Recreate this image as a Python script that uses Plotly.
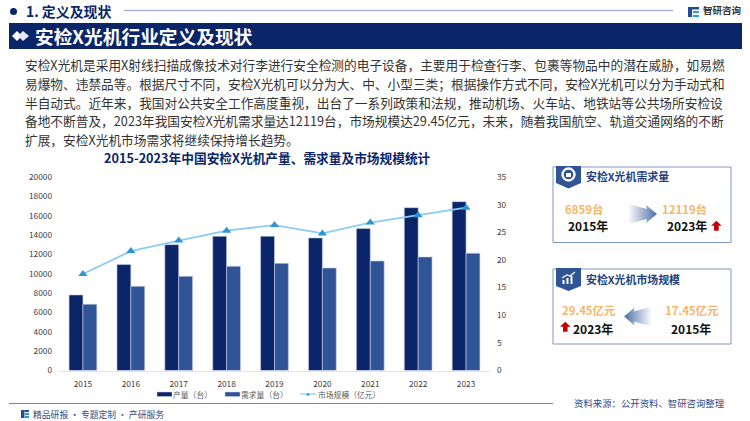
import base64
import plotly.graph_objects as go

W, H = 750, 421
years = ["2015", "2016", "2017", "2018", "2019", "2020", "2021", "2022", "2023"]
production = [7810, 10950, 13010, 13870, 13880, 13700, 14670, 16830, 17450]
demand = [6859, 8700, 9740, 10770, 11080, 10600, 11320, 11740, 12119]
market = [17.45, 21.6, 23.5, 25.3, 26.3, 24.8, 26.75, 28.1, 29.45]
left_ticks = [0, 2000, 4000, 6000, 8000, 10000, 12000, 14000, 16000, 18000, 20000]
right_ticks = [0, 5, 10, 15, 20, 25, 30, 35]
series_names = ["产量（台）", "需求量（台）", "市场规模（亿元）"]

NAVY = "#0A2568"
MID = "#2F5597"
FONT = "Noto Sans CJK SC"
body_lines = [
    "安检X光机是采用X射线扫描成像技术对行李进行安全检测的电子设备，主要用于检查行李、包裹等物品中的潜在威胁，如易燃",
    "易爆物、违禁品等。根据尺寸不同，安检X光机可以分为大、中、小型三类；根据操作方式不同，安检X光机可以分为手动式和",
    "半自动式。近年来，我国对公共安全工作高度重视，出台了一系列政策和法规，推动机场、火车站、地铁站等公共场所安检设",
    "备地不断普及，2023年我国安检X光机需求量达12119台，市场规模达29.45亿元，未来，随着我国航空、轨道交通网络的不断",
    "扩展，安检X光机市场需求将继续保持增长趋势。",
]


def px(x):
    return x / W


def py(y):
    return 1 - y / H


def text(x, y, s, size, color="#222222", anchor="left", bold=False):
    return dict(
        x=px(x), y=py(y), xref="paper", yref="paper", text=f"<b>{s}</b>" if bold else s,
        showarrow=False, xanchor=anchor, yanchor="middle",
        font=dict(size=size, color=color, family=FONT), borderpad=0, borderwidth=0,
    )


def rect(x0, y0, x1, y1, fill=None, line=None, lw=1, layer="below"):
    return dict(
        type="rect", xref="paper", yref="paper", x0=px(x0), x1=px(x1), y0=py(y0), y1=py(y1),
        fillcolor=fill or "rgba(0,0,0,0)", line=dict(color=line or "rgba(0,0,0,0)", width=lw if line else 0),
        layer=layer,
    )


def hline(x0, x1, y, color, lw=1, layer="below"):
    return dict(type="line", xref="paper", yref="paper", x0=px(x0), x1=px(x1), y0=py(y), y1=py(y),
                line=dict(color=color, width=lw), layer=layer)


def poly(points, fill):
    d = "M " + " L ".join(f"{px(a):.5f},{py(b):.5f}" for a, b in points) + " Z"
    return dict(type="path", xref="paper", yref="paper", path=d, fillcolor=fill, line=dict(width=0), layer="above")


def svg_img(svg, x, y, w, h):
    uri = "data:image/svg+xml;base64," + base64.b64encode(svg.encode()).decode()
    return dict(source=uri, xref="paper", yref="paper", x=px(x), y=py(y), sizex=w / W, sizey=h / H,
                xanchor="left", yanchor="top", sizing="stretch", layer="above")


def arrow_svg(reverse):
    a, b = ("#FFFFFF", "#4A6FA8") if not reverse else ("#4A6FA8", "#FFFFFF")
    pts = "0,0 19,5 18,1 29,10 18,19 19,15 0,20" if not reverse else "29,0 10,5 11,1 0,10 11,19 10,15 29,20"
    return (f'<svg xmlns="http://www.w3.org/2000/svg" width="29" height="20" viewBox="0 0 29 20">'
            f'<defs><linearGradient id="g"><stop offset="0" stop-color="{a}"/><stop offset="1" stop-color="{b}"/>'
            f'</linearGradient></defs><polygon points="{pts}" fill="url(#g)"/></svg>')


def up_arrow(cx, top):
    return poly([(cx - 5.3, top + 5), (cx, top), (cx + 5.3, top + 5), (cx + 2.3, top + 5),
                 (cx + 2.3, top + 10), (cx - 2.3, top + 10), (cx - 2.3, top + 5)], "#C00000")


fig = go.Figure()
fig.add_bar(x=years, y=production, name=series_names[0],
            marker=dict(color=NAVY, line=dict(color="#C9D2E6", width=0.6)), yaxis="y")
fig.add_bar(x=years, y=demand, name=series_names[1],
            marker=dict(color=MID, line=dict(color="#C9D2E6", width=0.6)), yaxis="y")
fig.add_scatter(x=years, y=market, name=series_names[2], yaxis="y2", mode="lines+markers",
                line=dict(color="#8CCBF5", width=1.8),
                marker=dict(symbol="triangle-up", size=8, color="#2E95D3"))

shapes = [
    dict(type="circle", xref="paper", yref="paper", x0=px(10), x1=px(17), y0=py(15), y1=py(8),
         fillcolor=NAVY, line=dict(width=0), layer="below"),
    hline(124, 673, 10.5, "#A9B5D3", 1.4),
    rect(9, 23, 742, 49, fill=NAVY),
    poly([(12, 36), (17, 31), (22, 36), (17, 41)], "#FFFFFF"),
    poly([(18, 36), (23, 31), (29, 36), (23, 41)], "#E4E8F2"),
    hline(9, 553, 403.5, "#6F86B5", 1.2),
    # logo marks
    rect(688, 7, 692, 17, fill="#1E4E9C"),
    rect(692, 7, 699, 9.5, fill="#1E4E9C"),
    rect(693, 11, 699, 13, fill="#2B9BD8"),
    rect(693, 15, 699, 17, fill="#2B9BD8"),
    rect(21, 410, 24.5, 418, fill="#1E4E9C"),
    rect(24.5, 410, 29, 412, fill="#1E4E9C"),
    rect(25, 413, 29, 415, fill="#2B9BD8"),
    rect(25, 416, 29, 418, fill="#2B9BD8"),
    # side cards
    rect(553, 167, 731, 242.5, fill="#FFFFFF", line="#7F97C6", lw=1),
    rect(553, 269, 731, 344, fill="#FFFFFF", line="#7F97C6", lw=1),
    poly([(556, 166), (581, 166), (581, 183), (568.5, 188.5), (556, 183)], "#2F5597"),
    poly([(556, 268), (581, 268), (581, 286), (568.5, 291), (556, 286)], "#2F5597"),
    dict(type="circle", xref="paper", yref="paper", x0=px(562.5), x1=px(574.5), y0=py(180.5), y1=py(168.5),
         fillcolor="rgba(0,0,0,0)", line=dict(color="#FFFFFF", width=2.4), layer="above"),
    rect(566, 173, 571, 177, fill="#FFFFFF", layer="above"),
    rect(562.5, 280, 564.5, 284, fill="#FFFFFF", layer="above"),
    rect(566.5, 278, 568.5, 284, fill="#FFFFFF", layer="above"),
    rect(570.5, 276, 572.5, 284, fill="#FFFFFF", layer="above"),
    dict(type="path", xref="paper", yref="paper",
         path=f"M {px(562):.5f},{py(278):.5f} L {px(567):.5f},{py(275):.5f} L {px(570):.5f},{py(276):.5f} L {px(575):.5f},{py(272):.5f}",
         line=dict(color="#FFFFFF", width=1.2), layer="above"),
    up_arrow(716.4, 220.8),
    up_arrow(565.3, 321.7),
    # legend keys
    rect(157, 392, 172, 396.5, fill=NAVY, line="#C9D2E6", lw=0.5),
    rect(225, 392, 240, 396.5, fill=MID, line="#C9D2E6", lw=0.5),
    hline(300, 316, 394, "#8CCBF5", 1.2),
    poly([(306, 395.5), (308, 392.5), (310, 395.5)], "#2E95D3"),
]

annotations = [
    text(26, 11.5, "1. 定义及现状", 13.9, NAVY, bold=True),
    text(35, 36, "安检X光机行业定义及现状", 18.7, "#FFFFFF", bold=True),
    text(703, 10.5, "智研咨询", 9.5, "#333333", bold=True),
    text(267, 157, "2015-2023年中国安检X光机产量、需求量及市场规模统计", 12.7, NAVY, "center", bold=True),
    text(33, 414.5, "精品研报 · 专题定制 · 产研服务", 8.8, "#2F4A86"),
    text(574, 402.5, "资料来源：公开资料、智研咨询整理", 9.4, "#2F4A86"),
    text(585.5, 176.5, "安检X光机需求量", 10.9, "#1F3F80", bold=True),
    text(585.5, 279, "安检X光机市场规模", 10.9, "#1F3F80", bold=True),
    text(583.5, 209, "6859台", 11.4, "#F8B56A", "center", bold=True),
    text(684.7, 209, "12119台", 11.4, "#F8B56A", "center", bold=True),
    text(587.5, 225.3, "2015年", 12, "#111111", "center", bold=True),
    text(687, 225.3, "2023年", 12, "#111111", "center", bold=True),
    text(588.5, 310, "29.45亿元", 11.4, "#F8B56A", "center", bold=True),
    text(692, 310, "17.45亿元", 11.4, "#F8B56A", "center", bold=True),
    text(593.3, 328, "2023年", 12, "#111111", "center", bold=True),
    text(691, 328, "2015年", 12, "#111111", "center", bold=True),
    text(173, 394, series_names[0], 7.8, "#595959"),
    text(241, 394, series_names[1], 7.8, "#595959"),
    text(318, 394, series_names[2], 7.8, "#595959"),
]
for i, line in enumerate(body_lines):
    annotations.append(text(25, 65 + i * 18.6, line, 12.7, "#333333"))

images = [svg_img(arrow_svg(False), 628, 204, 29, 20), svg_img(arrow_svg(True), 624, 306.5, 28, 20)]

fig.update_layout(
    width=W, height=H, margin=dict(l=0, r=0, t=0, b=0, autoexpand=False), autosize=False,
    paper_bgcolor="#FFFFFF", plot_bgcolor="rgba(0,0,0,0)",
    barmode="group", bargap=0.42, bargroupgap=0, showlegend=False,
    font=dict(family=FONT, size=8.3, color="#404040"),
    xaxis=dict(domain=[59 / W, 490 / W], range=[-0.5, 8.5], showgrid=False, showline=True, linecolor="#E3E3E3",
               linewidth=1, ticks="", tickfont=dict(size=8.3, color="#404040"), anchor="y", type="category",
               ticklabelstandoff=6),
    yaxis=dict(domain=[1 - 370.5 / H, 1 - 177 / H], range=[0, 20000], tickvals=left_ticks, tickformat="d",
               showgrid=False, zeroline=False, tickfont=dict(size=8.3, color="#404040"), ticks="",
               ticklabelstandoff=6),
    yaxis2=dict(domain=[1 - 370.5 / H, 1 - 177 / H], range=[0, 35], tickvals=right_ticks, overlaying="y",
                side="right", anchor="x", showgrid=False, zeroline=False,
                tickfont=dict(size=8.3, color="#404040"), ticks="", ticklabelstandoff=6),
    shapes=shapes, annotations=annotations, images=images,
)

fig.write_html("out.html", config={"displayModeBar": False},
               post_script="document.body.style.margin='0';document.body.style.overflow='hidden';")
